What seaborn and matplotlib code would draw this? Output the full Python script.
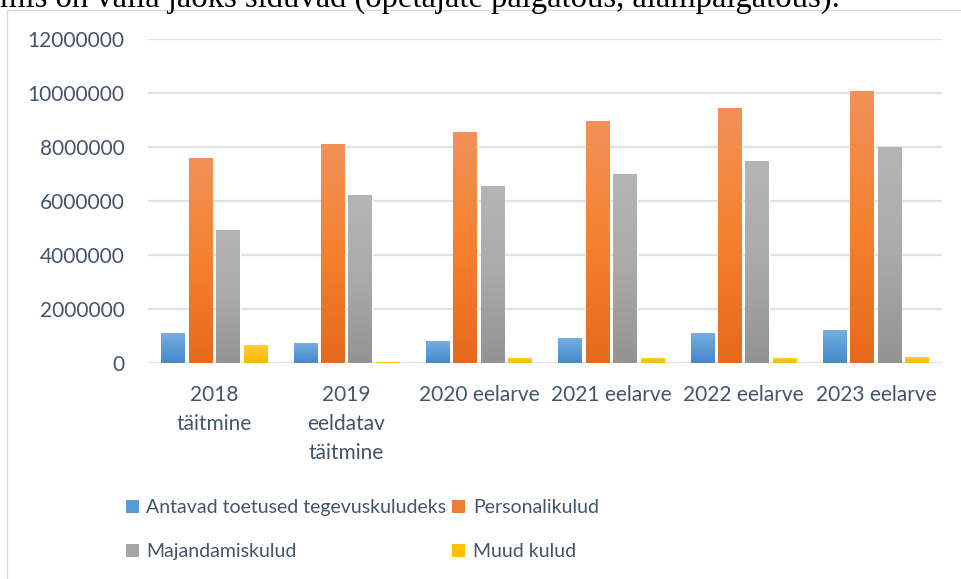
import matplotlib
matplotlib.use("Agg")
import matplotlib.pyplot as plt
import seaborn as sns
import numpy as np
import pandas as pd
from matplotlib.colors import LinearSegmentedColormap
from matplotlib.patches import Patch, Rectangle

# === Andmed ===
aastad = ["2018\ntäitmine", "2019\neeldatav\ntäitmine", "2020 eelarve",
          "2021 eelarve", "2022 eelarve", "2023 eelarve"]
toetused = [1100000, 740000, 810000, 920000, 1100000, 1220000]
personal = [7590000, 8110000, 8520000, 8960000, 9410000, 10070000]
majandamine = [4890000, 6220000, 6520000, 7000000, 7480000, 8000000]
muud = [660000, 10000, 150000, 150000, 180000, 210000]

seeriad = ["Antavad toetused tegevuskuludeks", "Personalikulud",
           "Majandamiskulud", "Muud kulud"]
varvid = ["#5b9bd5", "#ed7d31", "#a5a5a5", "#ffc000"]
gradiendid = [["#78aee0", "#5b9bd5", "#4688cb"],
              ["#f19159", "#f5812f", "#e6691c"],
              ["#b5b5b5", "#aaaaaa", "#939393"],
              ["#ffcb40", "#ffc21a", "#f2bb00"]]

df = pd.DataFrame({
    "aasta": aastad * 4,
    "seeria": sum([[s] * len(aastad) for s in seeriad], []),
    "summa": toetused + personal + majandamine + muud,
})

tekst = "#44546a"
sns.set_style("white")
plt.rcParams["font.family"] = ["Lato", "DejaVu Sans"]

fig = plt.figure(figsize=(9.62, 5.79), dpi=100)
ax = fig.add_axes([148 / 962, 1 - 363 / 579, (942 - 148) / 962, (363 - 39) / 579])

sns.barplot(data=df, x="aasta", y="summa", hue="seeria", hue_order=seeriad,
            palette=varvid, width=0.83, gap=0.14, legend=False, ax=ax)

# gradient tulpadele
for cont, stops in zip(ax.containers, gradiendid):
    cmap = LinearSegmentedColormap.from_list("g", stops)
    for bar in cont:
        x0, w, h = bar.get_x(), bar.get_width(), bar.get_height()
        grad = np.linspace(0, 1, 256).reshape(-1, 1)
        ax.imshow(grad, cmap=cmap, extent=[x0, x0 + w, 0, h], aspect="auto",
                  origin="upper", zorder=2)

ax.set_xlim(-0.5, len(aastad) - 0.5)
ax.set_ylim(0, 12000000)
ax.set_yticks(np.arange(0, 12000001, 2000000))
ax.set_yticklabels([f"{v:d}" for v in range(0, 12000001, 2000000)])
ax.set_xlabel("")
ax.set_ylabel("")
ax.set_axisbelow(True)
ax.grid(axis="y", color="#dfe3e8", linewidth=1.6)
ax.grid(axis="x", visible=False)
for s in ax.spines.values():
    s.set_visible(False)
ax.tick_params(axis="both", length=0, labelsize=15, labelcolor=tekst)
ax.tick_params(axis="y", pad=17)
ax.tick_params(axis="x", pad=16)
plt.setp(ax.get_xticklabels(), linespacing=1.55)

# legend
kasitsejad = [Patch(facecolor=c, edgecolor="none") for c in varvid]
jarjekord = [0, 2, 1, 3]
fig.legend([kasitsejad[i] for i in jarjekord], [seeriad[i] for i in jarjekord],
           ncol=2, loc="upper left", bbox_to_anchor=(126 / 962, 1 - 499 / 579),
           frameon=False, fontsize=14, labelcolor=tekst, borderpad=0,
           borderaxespad=0, handlelength=0.65, handleheight=0.65,
           handletextpad=0.4, columnspacing=0.3, labelspacing=1.4)

# diagrammi raam
fig.patches.append(Rectangle((7 / 962, -0.1), 1.0, 1.1 - 10 / 579, transform=fig.transFigure,
                             fill=False, edgecolor="#d9d9d9", linewidth=1))

# lehe tekst diagrammi kohal (osaliselt ära lõigatud)
fig.text(0.0, 1 - 7 / 579, "mis on valla jaoks siduvad (õpetajate palgatõus, alampalgatõus).",
         family=["Liberation Serif", "DejaVu Serif"], fontsize=23.5, va="baseline",
         ha="left", color="black")

fig.savefig("out.png", dpi=100)
